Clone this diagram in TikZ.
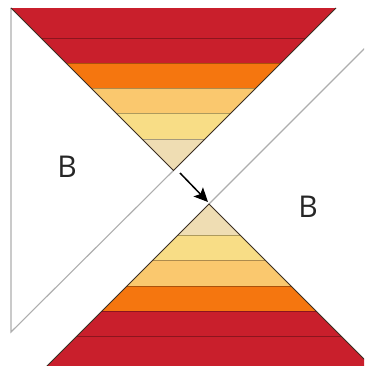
\documentclass[tikz,border=0pt]{standalone}
\usepackage{fontspec}
\setmainfont{Open Sans}
\usetikzlibrary{arrows.meta}
\definecolor{quiltred}{HTML}{C91F2C}
\definecolor{quiltorange}{HTML}{F5760F}
\definecolor{quiltapricot}{HTML}{FAC86E}
\definecolor{quiltyellow}{HTML}{F8DD86}
\definecolor{quiltbeige}{HTML}{EFDDB3}
\definecolor{seamgray}{HTML}{AEAEAE}
\definecolor{edgebrown}{HTML}{3A2E22}
\tikzset{
  seam/.style={draw=black, draw opacity=0.3, line width=0.8pt},
  whiteedge/.style={draw=seamgray, line width=1.1pt},
  darkedge/.style={draw=edgebrown, line width=0.9pt},
  blocklabel/.style={font=\fontsize{30}{30}\selectfont, text=black!85}
}
\begin{document}
\begin{tikzpicture}[x=1pt,y=-1pt]
  \clip (0,0) rectangle (364,366);
  \fill[white] (0,0) rectangle (364,366);
  % top half-square triangle
  \begin{scope}
    \clip (11,8) -- (336,8) -- (173.5,170.5) -- cycle;
    \fill[quiltred] (0,8) rectangle (364,63);
    \fill[quiltorange] (0,63) rectangle (364,88);
    \fill[quiltapricot] (0,88) rectangle (364,113);
    \fill[quiltyellow] (0,113) rectangle (364,139);
    \fill[quiltbeige] (0,139) rectangle (364,172);
    \foreach \y in {38,63,88,113,139}
      \draw[seam] (0,\y) -- (364,\y);
  \end{scope}
  % bottom half-square triangle
  \begin{scope}
    \clip (46.5,366.5) -- (371.5,366.5) -- (209,204) -- cycle;
    \fill[quiltbeige] (0,203) rectangle (380,235);
    \fill[quiltyellow] (0,235) rectangle (380,260);
    \fill[quiltapricot] (0,260) rectangle (380,286);
    \fill[quiltorange] (0,286) rectangle (380,311);
    \fill[quiltred] (0,311) rectangle (380,367);
    \foreach \y in {235,260,286,311,336}
      \draw[seam] (0,\y) -- (380,\y);
  \end{scope}
  % white B pieces
  \draw[whiteedge] (173.5,170.5) -- (11,332) -- (11,8);
  \draw[whiteedge] (209,204) -- (371.5,41.5);
  \draw[darkedge] (11,8) -- (173.5,170.5) -- (336,8);
  \draw[darkedge] (46.5,366.5) -- (209,204) -- (371.5,366.5);
  % labels and arrow
  \node[blocklabel] (leftB) at (67,167) {B};
  \node[blocklabel] (rightB) at (308,207) {B};
  \coordinate (tail) at (180,173);
  \coordinate (tip) at (208,202);
  \draw[-{Stealth[length=14pt,width=13pt,inset=3pt]}, line width=1.5pt] (tail) -- (tip);
\end{tikzpicture}
\end{document}
